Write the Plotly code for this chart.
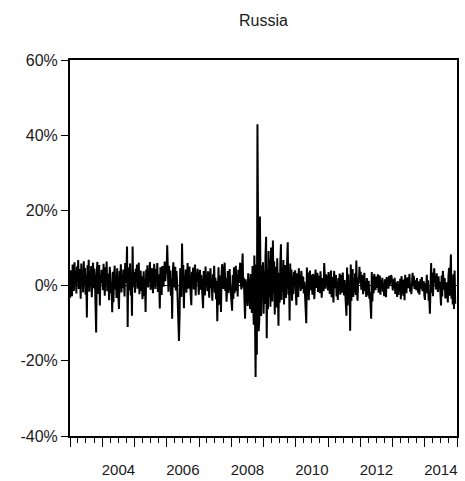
import pandas as pd
import plotly.graph_objects as go

# Weekly stock index returns for Russia, in percent, one list per calendar year
r2003 = [-3.2, 4.1, 1.5, -2.8, 5.6, 2.3, -1.4, 6.2, 0.8, 3.9, -2.1, 5.1, 1.7, 6.8, -0.9, 4.4, 2.6, -3.5, 5.9, 1.2,
         3.3, -1.8, 6.5, 0.4, 4.7, -2.4, 2.9, -8.5, 5.4, 1.1, 6.9, -1.6, 3.8, 0.2, 5.2, -3.1, 2.4, 6.1, -0.7, 4.5,
         1.9, -4.6, -12.5, 3.6, 6.3, -2.2, 1.4, 5.5, -5.3, 2.8, 0.6, 4.2]
r2004 = [3.4, -1.2, 5.8, 2.1, -2.7, 4.9, 0.9, 6.4, -1.5, 3.2, 1.8, -3.9, 5.0, 2.6, -2.0, 0.5, -7.1, 3.7, -4.4, 2.2,
         5.3, -1.0, 1.6, -3.3, 4.6, 0.3, -2.5, -6.2, 3.9, 1.1, 5.7, -1.8, 2.7, -0.6, 4.3, 1.5, -2.9, 6.0, 0.8, 3.1,
         10.4, -11.0, 4.8, -1.3, 2.5, 5.9, -2.6, 1.2, -8.0, 10.4, -0.4, 3.6]
r2005 = [2.8, -1.9, 4.5, 1.3, 5.6, -0.8, 3.2, 6.1, -2.3, 1.7, 4.0, -1.4, 2.5, -3.6, 0.9, 3.8, -2.8, 1.6, -7.0, 4.2,
         2.0, 5.4, -0.5, 3.5, 1.0, 6.3, -1.1, 2.9, 4.7, 0.4, -2.0, 3.3, 5.8, 1.5, -0.9, 4.4, 2.2, 6.0, -1.7, 3.0,
         0.7, -6.1, 4.9, 1.8, -2.5, 5.2, 2.4, -0.3, 3.7, 6.4, 1.2, 4.1]
r2006 = [3.5, 10.7, 2.1, -1.6, 5.3, 0.8, 4.0, -2.7, 1.9, -8.8, 3.6, 6.2, -0.5, 2.8, 5.0, -1.3, 3.9, 1.0, -4.1, -6.5,
         -14.7, -8.2, 4.6, 2.3, -3.0, 11.2, 1.4, 5.5, -6.0, 2.6, 0.3, 4.3, -1.9, 3.1, 6.0, -0.8, 2.4, 5.1, 0.6, -2.2,
         -5.2, 3.7, 1.6, 4.8, -1.0, 2.0, 5.6, -2.6, 3.3, 0.9, 4.5, 1.8]
r2007 = [-2.4, 1.9, 4.2, -1.1, 2.8, 0.5, -1.8, -6.0, 3.9, 1.4, -2.6, 5.1, 0.2, 2.5, -1.5, 3.8, 1.0, -3.2, 2.2, 4.6,
         -0.7, 1.7, -4.0, 3.0, 0.6, 5.3, -1.9, 2.1, -3.6, 1.3, -9.5, -2.8, 4.9, -5.1, 2.7, 0.4, -7.0, 3.4, 5.7, 1.1,
         -0.9, 3.6, 6.1, -1.4, 2.0, -4.3, 0.8, 3.9, -2.0, 1.5, 4.4, 0.3]
r2008 = [-1.6, -4.1, -6.7, 2.8, -3.5, 4.9, -2.0, 1.2, 5.3, -1.4, 3.0, -2.9, 4.2, 0.7, 2.4, 6.1, 1.3, -1.0, 3.6, 8.5,
         -0.5, 2.1, -3.8, -8.8, 1.7, -4.6, 0.9, -5.4, 3.3, -2.7, -3.0, -6.2, 3.1, -5.0, -7.3, 5.2, -9.1, -10.4, 8.0,
         -18.0, -24.3, 5.6, -18.4, 42.9, -5.2, -12.1, -9.0, 18.4, 2.3, -8.1, 5.4, -3.2]
r2009 = [6.2, -7.5, 3.8, -4.9, 8.1, 13.0, -14.0, 4.4, -6.3, 9.2, -3.1, 7.0, -5.6, 10.1, 2.5, -4.2, 12.0, -2.0, 6.5,
         -7.7, 5.1, 0.9, -5.8, 7.3, -2.6, -10.7, 3.4, -4.5, 6.0, 11.0, -3.8, 4.7, -1.5, 6.8, -5.0, 2.2, 5.5, -3.3,
         1.4, 4.0, 11.5, -2.4, 3.0, -9.3, 5.9, -1.1, 4.3, -4.0, 2.6, -2.2, 3.7, 1.0]
r2010 = [4.1, -1.8, -5.2, 3.3, 1.2, -3.0, 4.6, 0.5, 2.7, -1.4, 3.9, 1.6, -0.9, 2.4, -2.1, 1.0, -4.4, -6.5, -10.0, 4.8,
         -2.7, 3.5, -3.9, 1.8, 4.0, -1.2, 2.9, 0.3, -2.4, 3.1, 1.5, -3.6, 2.2, 4.3, -0.6, 1.9, 3.4, -1.7, 2.6, 0.8,
         -2.0, 3.8, 1.1, -3.2, 2.0, 0.4, -1.5, 6.0, 1.3, -0.8, 3.0, 1.7]
r2011 = [2.5, -1.3, 3.6, 0.9, -2.2, 1.8, 4.0, -3.1, 2.3, -1.6, -4.5, 3.9, 1.4, -0.7, 2.8, -2.9, 1.1, -3.8, 2.0, -1.0,
         3.2, -2.4, 0.6, 2.9, -1.9, 3.5, 0.2, -2.6, 1.5, -1.2, -3.4, -8.0, 4.8, -5.3, 3.0, -2.0, 1.0, -12.0, 5.6,
         -4.1, 2.7, 4.4, -3.0, 1.2, -1.8, 3.3, -2.5, 6.7, -1.4, -4.0, 2.1, 0.5]
r2012 = [5.0, 2.2, 3.7, -1.1, 2.9, 0.6, -2.3, 1.9, 3.4, -1.5, 0.8, -3.0, 2.0, -0.4, -2.6, 1.3, -3.5, -1.8, -5.0, -8.8,
         3.6, -4.2, 2.5, -2.0, 3.1, 0.7, -1.2, 2.4, -0.6, 1.6, 3.0, -1.9, 0.9, 2.7, -2.4, 1.4, -0.3, 2.1, -1.6, 0.5,
         -2.8, 1.7, -1.0, -3.1, 2.3, 0.4, 1.9, -0.8, 2.6, 0.1, 1.5, 2.8]
r2013 = [2.4, 0.6, -1.3, 1.7, -0.5, 2.1, -2.2, 0.9, -1.8, -3.0, 1.2, -2.5, 0.3, -1.4, 1.8, -3.6, 2.5, 0.8, -1.1, -2.7,
         1.6, -3.9, 2.9, 0.4, -2.0, 1.3, 2.2, -0.7, 1.0, 3.1, -1.6, 0.5, -2.3, 1.9, 3.4, 0.2, 2.6, -0.9, 1.4, 0.7,
         -1.2, 2.0, -0.3, -1.9, 1.1, -2.4, 0.6, 1.7, -0.8, 2.3, -1.5, 0.9]
r2014 = [1.2, -2.6, -3.8, 0.7, -1.5, 2.9, -2.1, 1.4, -4.0, -3.1, -7.5, 2.8, 6.0, -1.9, 3.5, -2.8, 1.6, 4.6, 0.8, 2.2,
         -1.0, 3.3, 0.4, -1.7, 2.5, -0.6, 1.0, -4.2, -5.3, 2.7, -2.9, 3.9, 1.3, -1.1, 2.0, -3.4, -2.2, 0.9, -1.8,
         -4.5, 2.4, 4.7, -2.7, 1.8, 8.3, -3.5, 1.5, -5.0, 3.0, -6.2, 4.0, -4.8]

returns = (r2003 + r2004 + r2005 + r2006 + r2007 + r2008 + r2009 + r2010 + r2011 + r2012 + r2013 + r2014)
weeks = pd.date_range(start="2003-01-03", periods=len(returns), freq="7D")

# Axis ticks
year_ticks = [f"{y}-01-01" for y in range(2003, 2016)]
label_years = [2004, 2006, 2008, 2010, 2012, 2014]
label_pos = [f"{y}-07-02" for y in label_years]
label_text = [str(y) for y in label_years]
y_ticks = [-40, -20, 0, 20, 40, 60]
y_text = [f"{v}%" for v in y_ticks]

FONT = "Liberation Sans, Arial, sans-serif"
INK = "#1a1a1a"
x_range = ["2003-01-01", "2015-01-01"]

fig = go.Figure()
fig.add_trace(go.Scatter(
    x=weeks, y=returns, mode="lines",
    line=dict(color="black", width=2),
    hoverinfo="skip", showlegend=False,
))
# carrier for the year-label axis
fig.add_trace(go.Scatter(x=[], y=[], xaxis="x2", yaxis="y", showlegend=False, hoverinfo="skip"))

fig.update_layout(
    width=465, height=481,
    margin=dict(l=70, r=8, t=60, b=45, autoexpand=False),
    paper_bgcolor="white", plot_bgcolor="white",
    font=dict(family=FONT, size=16, color=INK),
    title=dict(text="Russia", x=0.5, xref="paper", xanchor="center",
               y=1 - 20 / 481, yref="container", yanchor="middle",
               font=dict(family=FONT, size=16, color=INK)),
    xaxis=dict(
        type="date", range=x_range, automargin=False,
        tickmode="array", tickvals=year_ticks, showticklabels=False,
        ticks="outside", ticklen=9, tickwidth=1.2, tickcolor="black",
        minor=dict(dtick="M3", tick0="2003-01-01", ticks="outside", ticklen=5,
                   tickwidth=1, tickcolor="black", showgrid=False),
        showline=True, linecolor="black", linewidth=2, mirror=True,
        showgrid=False, zeroline=False,
    ),
    xaxis2=dict(
        type="date", range=x_range, overlaying="x", anchor="y", side="bottom",
        automargin=False,
        tickmode="array", tickvals=label_pos, ticktext=label_text,
        ticks="", ticklabelstandoff=23, showline=False, showgrid=False, zeroline=False,
        tickfont=dict(family=FONT, size=15, color=INK),
    ),
    yaxis=dict(
        range=[-40, 60], automargin=False,
        tickmode="array", tickvals=y_ticks, ticktext=y_text,
        ticks="outside", ticklen=7, tickwidth=1.2, tickcolor="black",
        showline=True, linecolor="black", linewidth=2, mirror=True,
        showgrid=False, zeroline=True, zerolinecolor="black", zerolinewidth=1,
        tickfont=dict(family=FONT, size=16, color=INK),
    ),
)

fig.write_html("out.html")
